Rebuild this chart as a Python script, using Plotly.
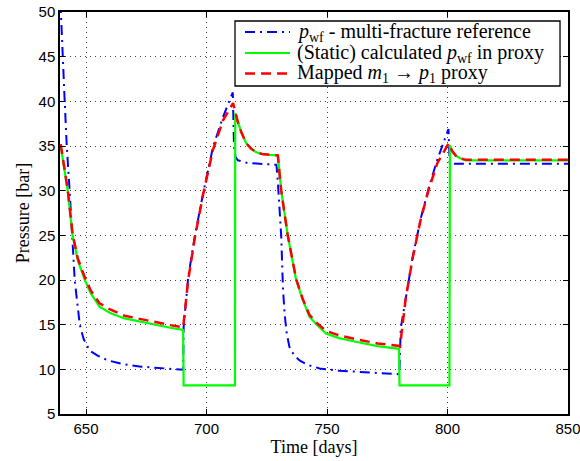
import plotly.graph_objects as go

# ---- data ----
# p_wf multi-fracture reference (blue dash-dot)
t_ref = [639.4, 639.9, 640.6, 641.0, 641.4, 642.0, 643.2, 644.2, 645.3, 647.4, 649.0,
         651.5, 655.0, 659.1, 665.0, 672.9, 680.0, 688.1, 690.3,
         690.5, 692.4, 695.2, 698.6, 702.7, 706.9, 710.9,
         711.4, 712.0, 713.0, 717.0, 722.0, 729.0,
         729.6, 730.3, 731.0, 731.7, 732.4, 733.3, 734.4, 736.3, 738.6, 742.0, 746.9,
         755.0, 763.4, 772.0, 780.0,
         780.6, 782.7, 785.5, 788.9, 792.4, 795.8, 800.4,
         800.9, 850.0]
p_ref = [51.0, 48.4, 43.5, 40.9, 38.3, 35.0, 30.0, 25.0, 20.0, 15.0, 13.4,
         12.1, 11.5, 11.0, 10.6, 10.3, 10.15, 10.0, 9.95,
         14.7, 20.3, 25.0, 29.7, 34.9, 38.3, 41.0,
         35.0, 33.8, 33.4, 33.1, 33.0, 32.9,
         31.0, 28.0, 24.9, 19.2, 16.2, 14.0, 12.5, 11.6, 11.0, 10.5, 10.1,
         9.85, 9.7, 9.55, 9.45,
         14.6, 18.0, 22.5, 26.9, 30.5, 33.5, 36.9,
         33.0, 33.0]

# (Static) calculated p_wf in proxy (green solid)
t_static = [639.5, 640.5, 642.4, 644.4, 646.6, 649.5, 652.0, 655.6, 660.0, 666.0, 673.0,
            680.0, 685.0, 690.3, 690.5, 711.8, 711.9, 713.0, 714.5, 716.5, 718.5,
            720.6, 723.0, 726.2, 729.6, 731.0, 733.7, 737.2, 739.9, 742.7, 746.1,
            749.6, 755.0, 763.4, 771.0, 779.9, 780.1, 800.8, 801.0, 802.0, 803.5,
            805.5, 807.6, 850.0]
p_static = [35.0, 33.2, 30.0, 25.0, 22.2, 20.0, 18.5, 17.0, 16.3, 15.7, 15.3,
            14.9, 14.65, 14.4, 8.2, 8.2, 38.7, 37.7, 36.5, 35.3, 34.7,
            34.3, 34.1, 34.0, 33.95, 30.0, 25.0, 20.0, 17.8, 15.9, 14.9,
            14.0, 13.5, 13.0, 12.6, 12.3, 8.2, 8.2, 35.1, 34.4, 33.9,
            33.6, 33.4, 33.4]

# Mapped m1 -> p1 proxy (red dashed)
t_mapped = [639.5, 640.5, 642.4, 644.4, 646.6, 649.5, 652.0, 655.6, 660.0, 666.0, 673.0,
            680.0, 685.0, 690.3, 692.4, 695.2, 698.6, 702.7, 706.9, 711.0, 712.0,
            713.0, 714.5, 716.5, 718.5, 720.6, 723.0, 726.2, 729.6, 731.0, 733.7,
            737.2, 739.9, 742.7, 746.1, 749.6, 755.0, 763.4, 771.0, 780.3,
            782.7, 785.5, 788.9, 792.4, 795.8, 800.5, 802.0, 803.5, 805.5, 807.6, 850.0]
p_mapped = [35.2, 33.4, 30.1, 25.2, 22.4, 20.3, 18.8, 17.4, 16.7, 16.0, 15.6,
            15.2, 14.95, 14.7, 20.0, 24.8, 29.6, 34.6, 37.9, 39.8, 38.7,
            37.7, 36.5, 35.3, 34.7, 34.3, 34.1, 34.0, 33.95, 30.0, 25.0,
            20.1, 17.9, 16.1, 15.1, 14.3, 13.8, 13.3, 12.9, 12.6,
            18.0, 22.4, 26.8, 30.3, 33.1, 35.3, 34.4, 33.9, 33.6, 33.45, 33.45]

x_ticks = [650, 700, 750, 800, 850]
y_ticks = [5, 10, 15, 20, 25, 30, 35, 40, 45, 50]

names = ["<i>p</i><sub>wf</sub> - multi-fracture reference",
         "(Static) calculated <i>p</i><sub>wf</sub> in proxy",
         "Mapped <i>m</i><sub>1</sub> \u2192 <i>p</i><sub>1</sub> proxy"]
colors = ["#0000FF", "#00FF00", "#FF0000"]
dashes = ["10px,5px,2px,5px", "solid", "10px,6px"]
widths = [2, 2.2, 2.5]

SERIF = "Liberation Serif, Times New Roman, serif"
SANS = "Liberation Sans, Arial, sans-serif"

fig = go.Figure()
for tx, py, nm, c, d, w in zip([t_ref, t_static, t_mapped], [p_ref, p_static, p_mapped],
                               names, colors, dashes, widths):
    fig.add_trace(go.Scatter(x=tx, y=py, mode="lines", name=nm, showlegend=False,
                             line=dict(color=c, width=w, dash=d)))

axis_common = dict(showline=True, linecolor="black", linewidth=1.5, mirror="ticks",
                   ticks="inside", ticklen=5, tickcolor="black",
                   showgrid=True, gridcolor="#444444", griddash="1px,4px", gridwidth=1,
                   zeroline=False, automargin=False, ticklabeloverflow="allow",
                   tickfont=dict(family=SANS, size=15, color="black"))

fig.update_xaxes(range=[639.2, 850], tickvals=x_ticks,
                 title=dict(text="Time [days]", font=dict(family=SERIF, size=18, color="black"),
                            standoff=2),
                 **axis_common)
fig.update_yaxes(range=[5, 50], tickvals=y_ticks,
                 title=dict(text="Pressure [bar]", font=dict(family=SERIF, size=18, color="black"),
                            standoff=4),
                 **axis_common)

# legend box drawn in the MATLAB style (box, sample lines, labels)
box_x0, box_x1, box_y0, box_y1 = 0.3445, 0.9843, 0.8159, 0.9776
samp_x0, samp_x1, text_x = 0.3642, 0.4528, 0.4626
row_y = [0.9502, 0.8980, 0.8470]

shapes = [dict(type="rect", xref="paper", yref="paper", x0=box_x0, x1=box_x1, y0=box_y0, y1=box_y1,
               line=dict(color="black", width=1.3), fillcolor="white", layer="above")]
annotations = []
for ry, nm, c, d, w in zip(row_y, names, colors, dashes, widths):
    shapes.append(dict(type="line", xref="paper", yref="paper", x0=samp_x0, x1=samp_x1, y0=ry, y1=ry,
                       line=dict(color=c, width=w, dash=d), layer="above"))
    annotations.append(dict(text=nm, xref="paper", yref="paper", x=text_x, y=ry,
                            xanchor="left", yanchor="middle", showarrow=False,
                            font=dict(family=SERIF, size=20, color="black")))

fig.update_layout(
    width=580, height=461,
    margin=dict(l=60, r=12, t=12, b=47),
    plot_bgcolor="white", paper_bgcolor="white",
    shapes=shapes, annotations=annotations,
    showlegend=False,
)

# remove the browser's default 8px body margin so the figure fills the window
fig.write_html("out.html", config={"displayModeBar": False},
               post_script="document.body.style.margin='0px';")
